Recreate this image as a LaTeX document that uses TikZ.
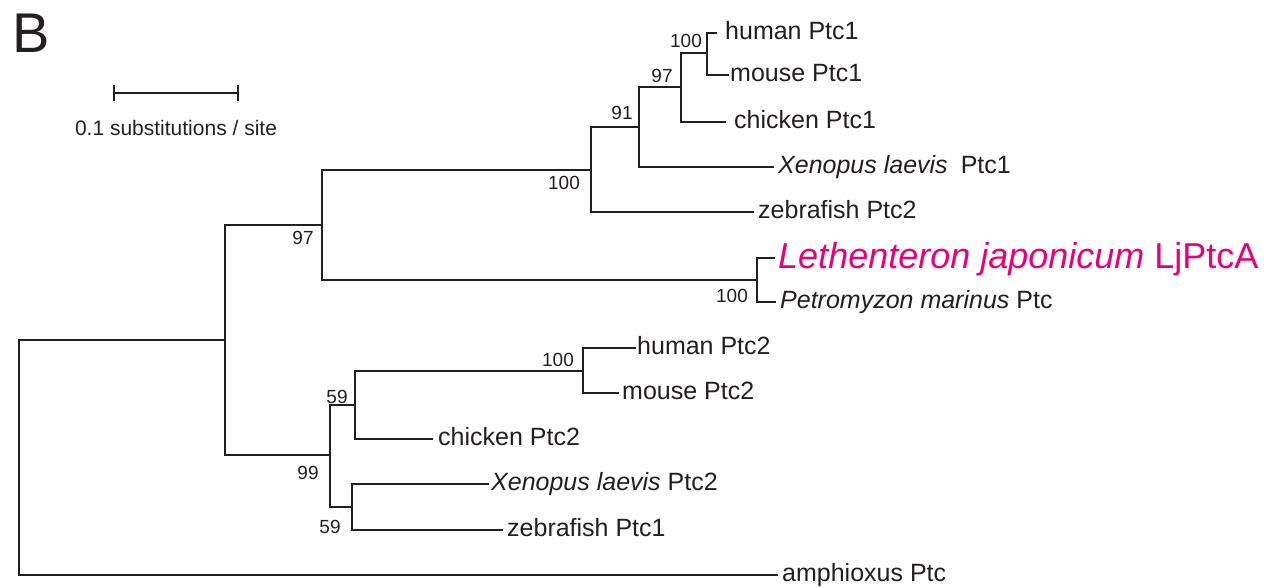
\documentclass[tikz,border=0pt]{standalone}
\usepackage{fontspec}
\setmainfont{Liberation Sans}
\definecolor{ink}{RGB}{35,31,32}
\definecolor{lamprey}{RGB}{230,0,126}
\begin{document}
\begin{tikzpicture}[x=1pt,y=-1pt,
  branch/.style={line width=1.4pt,draw=ink,line cap=rect},
  leaf/.style={anchor=base west,inner sep=0pt,text=ink,font=\fontsize{25}{28}\selectfont},
  boot/.style={inner sep=0pt,text=ink,font=\fontsize{19}{22}\selectfont}]
\useasboundingbox[fill=white] (0,0) rectangle (1279,587);
% internal nodes
\coordinate (R) at (19,457);
\coordinate (A) at (225,340);
\coordinate (B) at (322,225);
\coordinate (C) at (591,170);
\coordinate (D) at (639,127);
\coordinate (E) at (681,87);
\coordinate (F) at (707,53);
\coordinate (L) at (757,280);
\coordinate (G) at (330,455);
\coordinate (H) at (355,405);
\coordinate (J) at (583,371);
\coordinate (I) at (352,507);
% tips
\coordinate (thum1) at (716,33);
\coordinate (tmou1) at (728,75);
\coordinate (tchi1) at (725,122);
\coordinate (txen1) at (773,167);
\coordinate (tzeb2) at (753,212);
\coordinate (tleth) at (774,258);
\coordinate (tpetr) at (775,302);
\coordinate (thum2) at (635,348);
\coordinate (tmou2) at (618,393);
\coordinate (tchi2) at (432,439);
\coordinate (txen2) at (488,484);
\coordinate (tzeb1) at (502,530);
\coordinate (tamph) at (777,575);
% leaf labels (baseline ~6 below branch)
\node[leaf] (hum1) at (725,39) {human Ptc1};
\node[leaf] (mou1) at (730,81) {mouse Ptc1};
\node[leaf] (chi1) at (734,128) {chicken Ptc1};
\node[leaf] (xen1) at (778,173) {\itshape Xenopus laevis\hspace{13pt}\upshape Ptc1};
\node[leaf] (zeb2) at (758,218) {zebrafish Ptc2};
\node[leaf,text=lamprey,font=\fontsize{36}{40}\selectfont] (leth) at (778,268) {\itshape Lethenteron japonicum \upshape LjPtcA};
\node[leaf] (petr) at (780,308) {\itshape Petromyzon marinus \upshape Ptc};
\node[leaf] (hum2) at (637,354) {human Ptc2};
\node[leaf] (mou2) at (622,399) {mouse Ptc2};
\node[leaf] (chi2) at (438,445) {chicken Ptc2};
\node[leaf] (xen2) at (491,490) {\itshape Xenopus laevis \upshape Ptc2};
\node[leaf] (zeb1) at (507,536) {zebrafish Ptc1};
\node[leaf] (amph) at (782,581) {amphioxus Ptc};
% branches
\draw[branch] (thum1) -| (F) |- (tmou1);
\draw[branch] (F) -| (E) |- (tchi1);
\draw[branch] (E) -| (D) |- (txen1);
\draw[branch] (D) -| (C) |- (tzeb2);
\draw[branch] (tleth) -| (L) |- (tpetr);
\draw[branch] (C) -| (B) |- (L);
\draw[branch] (thum2) -| (J) |- (tmou2);
\draw[branch] (J) -| (H) |- (tchi2);
\draw[branch] (txen2) -| (I) |- (tzeb1);
\draw[branch] (H) -| (G) |- (I);
\draw[branch] (B) -| (A) |- (G);
\draw[branch] (A) -| (R) |- (tamph);
% bootstrap values
\node[boot] (bF) at (686,41) {100};
\node[boot] (bE) at (662,76) {97};
\node[boot] (bD) at (622,113) {91};
\node[boot] (bC) at (564,183) {100};
\node[boot] (bB) at (303,238) {97};
\node[boot] (bL) at (732,296) {100};
\node[boot] (bJ) at (558,360) {100};
\node[boot] (bH) at (337,397) {59};
\node[boot] (bG) at (308,473) {99};
\node[boot] (bI) at (330,527) {59};
% scale bar
\coordinate (s1) at (114,93);
\coordinate (s2) at (238,93);
\draw[branch,line cap=butt] (s1) -- (s2);
\draw[branch,line cap=butt] ([yshift=-8pt]s1) -- ([yshift=8pt]s1);
\draw[branch,line cap=butt] ([yshift=-8pt]s2) -- ([yshift=8pt]s2);
\node[anchor=base,inner sep=0pt,text=ink,font=\fontsize{21}{24}\selectfont] (scale) at (176,135) {0.1 substitutions / site};
% panel letter
\node[inner sep=0pt,text=ink,font=\fontsize{56}{60}\selectfont] (panel) at (31,33) {B};
\end{tikzpicture}
\end{document}
